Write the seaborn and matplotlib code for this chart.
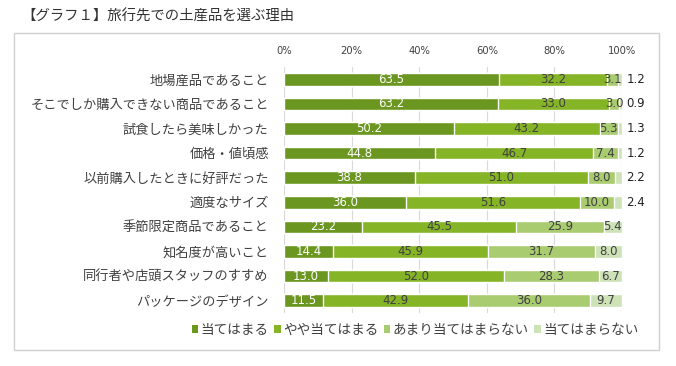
import matplotlib
matplotlib.use("Agg")
import matplotlib.pyplot as plt
import seaborn as sns
import pandas as pd
import numpy as np
from matplotlib.patches import Rectangle, Patch

categories = ["地場産品であること", "そこでしか購入できない商品であること", "試食したら美味しかった",
              "価格・値頃感", "以前購入したときに好評だった", "適度なサイズ", "季節限定商品であること",
              "知名度が高いこと", "同行者や店頭スタッフのすすめ", "パッケージのデザイン"]
s1 = [63.5, 63.2, 50.2, 44.8, 38.8, 36.0, 23.2, 14.4, 13.0, 11.5]
s2 = [32.2, 33.0, 43.2, 46.7, 51.0, 51.6, 45.5, 45.9, 52.0, 42.9]
s3 = [3.1, 3.0, 5.3, 7.4, 8.0, 10.0, 25.9, 31.7, 28.3, 36.0]
s4 = [1.2, 0.9, 1.3, 1.2, 2.2, 2.4, 5.4, 8.0, 6.7, 9.7]
series_names = ["当てはまる", "やや当てはまる", "あまり当てはまらない", "当てはまらない"]
xticks = [0, 20, 40, 60, 80, 100]

colors = ["#6b961f", "#85b426", "#a9cc70", "#cde2b6"]
text_dark = "#404040"

sns.set_theme(style="white")
plt.rcParams['font.family'] = ['Noto Sans CJK JP', 'DejaVu Sans']

vals = np.array([s1, s2, s3, s4])
cum = np.cumsum(vals, axis=0)
df = pd.DataFrame({"cat": categories})
for i in range(4):
    df[f"c{i}"] = cum[i]

fig = plt.figure(figsize=(6.76, 3.66), dpi=100)
fig.patches.append(Rectangle((14.5/676, 1-350/366), (659-14.5)/676, (350-33)/366,
                             transform=fig.transFigure, fill=False, edgecolor="#d0d0d0", lw=1.0))
fig.text(21/676, 1-17/366, "【グラフ１】旅行先での土産品を選ぶ理由", fontsize=10.4, color="#333333",
         ha="left", va="center")

ax = fig.add_axes([284/676, 1-313/366, (622-284)/676, (313-67)/366])
for i in [3, 2, 1, 0]:
    sns.barplot(data=df, x=f"c{i}", y="cat", orient="h", color=colors[i], width=0.52,
                errorbar=None, ax=ax, saturation=1, zorder=3)

ax.set_xlim(0, 100)
ax.set_ylim(9.5, -0.5)
ax.set_xlabel("")
ax.set_ylabel("")
ax.xaxis.tick_top()
ax.set_xticks(xticks)
ax.set_xticklabels([f"{t}%" for t in xticks], fontsize=7.2, color=text_dark, family="DejaVu Sans")
ax.tick_params(axis="x", length=0, pad=8)
ax.tick_params(axis="y", length=0, pad=11, labelsize=9.5, labelcolor=text_dark)
ax.grid(axis="x", color="#d9d9d9", lw=0.8, zorder=0)
for sp in ax.spines.values():
    sp.set_visible(False)

for r in range(len(categories)):
    starts = [0] + list(cum[:3, r])
    for i in range(4):
        v = vals[i, r]
        c = starts[i] + v / 2
        col = "white" if i == 0 else text_dark
        if i == 3 and v < 3:
            ax.text(101.3, r, f"{v:.1f}", ha="left", va="center", fontsize=8.5, color="#222222",
                    clip_on=False, zorder=5, family="DejaVu Sans")
        else:
            ax.text(c, r, f"{v:.1f}", ha="center", va="center", fontsize=8.5, color=col,
                    clip_on=False, zorder=5, family="DejaVu Sans")

handles = [Patch(facecolor=colors[i], edgecolor="none") for i in range(4)]
fig.legend(handles, series_names, loc="center", bbox_to_anchor=(415/676, 1-330/366), ncol=4,
           frameon=False, fontsize=9.8, handlelength=0.5, handleheight=0.5, handletextpad=0.15,
           columnspacing=0.4, labelcolor=text_dark)

fig.savefig("out.png", dpi=100)
